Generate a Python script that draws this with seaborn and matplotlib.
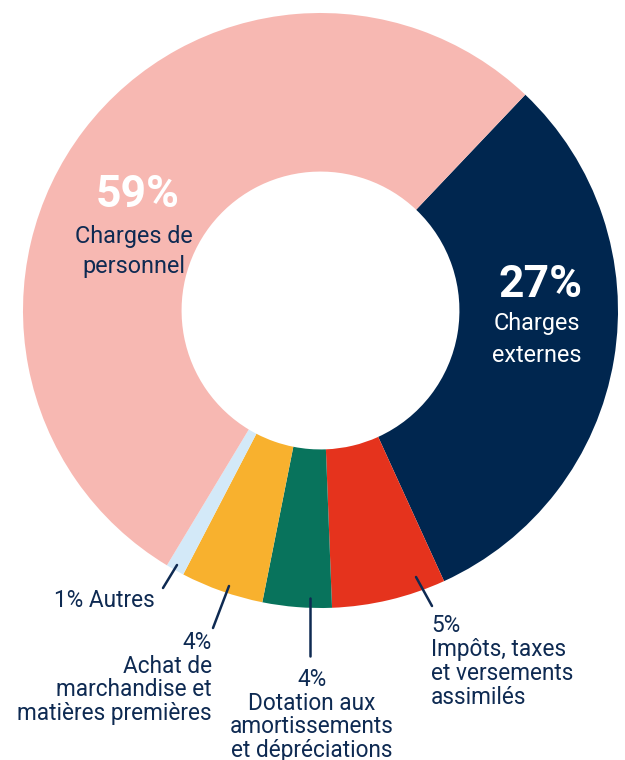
import matplotlib.pyplot as plt
import seaborn as sns
from matplotlib.lines import Line2D

# Wedges go clockwise from the top-right boundary
categories = ['Charges externes', 'Impôts, taxes et versements assimilés',
              'Dotation aux amortissements et dépréciations',
              'Achat de marchandise et matières premières', 'Autres',
              'Charges de personnel']
shares = [31.1, 6.2, 3.75, 4.5, 1.0, 53.45]   # wedge sizes as drawn
pct_labels = ['27%', '5%', '4%', '4%', '1%', '59%']
colors = ['#00264f', '#e5331d', '#08735c', '#f8b12e', '#d3e9f8', '#f7b8b2']

W, H = 625, 760
ink = '#0e2a52'

sns.set_theme(style='white')
plt.rcParams['font.family'] = ['Roboto', 'DejaVu Sans']

fig = plt.figure(figsize=(W / 100, H / 100), dpi=100)
ax = fig.add_axes([23 / W, 152 / H, 595 / W, 595 / H])
ax.pie(shares, colors=colors, startangle=46.5, counterclock=False, radius=1,
       wedgeprops=dict(width=0.533, linewidth=0))
ax.set_xlim(-1, 1)
ax.set_ylim(-1, 1)
ax.axis('off')


def put(lines, x, y0, step, ha, color=ink, size=16.3, weight='normal'):
    # one text per line, y0 is the pixel baseline of the first line
    for i, line in enumerate(lines):
        fig.text(x / W, 1 - (y0 + i * step) / H, line, ha=ha, va='baseline',
                 color=color, fontsize=size, fontweight=weight)


def leader(x1, y1, x2, y2):
    fig.add_artist(Line2D([x1 / W, x2 / W], [1 - y1 / H, 1 - y2 / H],
                          color=ink, lw=1.8, transform=fig.transFigure))


# labels inside the two big wedges
put([pct_labels[5]], 138, 207, 0, 'center', color='white', size=32, weight='bold')
put(['Charges de', 'personnel'], 134, 243, 30, 'center', size=16.8)
put([pct_labels[0]], 540, 297, 0, 'center', color='white', size=32, weight='bold')
put(['Charges', 'externes'], 537, 330, 32, 'center', color='white', size=16.8)

# outside labels with leader lines
put([pct_labels[4] + ' Autres'], 155, 607, 0, 'right')
leader(177, 565, 163, 588)

put([pct_labels[3], 'Achat de', 'marchandise et', 'matières premières'],
    212, 649, 23.7, 'right')
leader(229, 586, 213, 628)

put([pct_labels[2], 'Dotation aux', 'amortissements', 'et dépréciations'],
    312, 686, 23.5, 'center')
leader(310, 598, 310, 656)

put([pct_labels[1], 'Impôts, taxes', 'et versements', 'assimilés'],
    431, 632, 24, 'left')
leader(416, 577, 432, 606)

plt.savefig('out.png', dpi=100)
